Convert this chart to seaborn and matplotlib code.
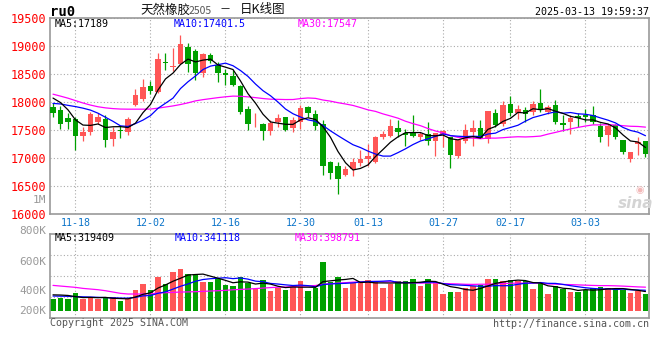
import numpy as np
import pandas as pd
import matplotlib
matplotlib.use("Agg")
import matplotlib.pyplot as plt
import seaborn as sns

# ---------------- data ----------------
open_ = [17910, 17860, 17720, 17690, 17400, 17460, 17650, 17690, 17340, 17500,
         17470, 17940, 18060, 18290, 18180, 18720, 18630, 18680, 18980, 18910,
         18520, 18840, 18660, 18520, 18470, 18280, 17870, 17670, 17610, 17490,
         17650, 17730, 17530, 17650, 17910, 17790, 17610, 16930, 16850, 16700,
         16810, 16910, 16990, 16930, 17380, 17400, 17540, 17450, 17450, 17370,
         17430, 17310, 17420, 17370, 17040, 17300, 17460, 17540, 17340, 17810,
         17600, 17970, 17800, 17860, 17830, 17990, 17830, 17950, 17620, 17650,
         17750, 17760, 17770, 17570, 17410, 17590, 17330, 16980, 17250, 17300]
high = [17980, 17930, 17800, 17730, 17560, 17820, 17810, 17760, 17560, 17570,
        17730, 18230, 18410, 18380, 18880, 18870, 18970, 19200, 19050, 18950,
        18870, 18880, 18720, 18590, 18580, 18300, 17920, 17800, 17630, 17680,
        17790, 17740, 17740, 17950, 17930, 17860, 17670, 16940, 16920, 16850,
        17000, 17150, 17250, 17390, 17490, 17690, 17670, 17520, 17760, 17470,
        17640, 17440, 17500, 17370, 17330, 17600, 17680, 17680, 17840, 17880,
        18020, 18100, 17950, 17910, 18020, 18230, 17950, 18040, 17770, 17760,
        17810, 17880, 17930, 17620, 17610, 17610, 17330, 17110, 17370, 17310]
low = [17730, 17520, 17520, 17150, 17310, 17410, 17610, 17190, 17220, 17350,
       17410, 17920, 18010, 18150, 18160, 18580, 18560, 18670, 18540, 18400,
       18440, 18690, 18350, 18310, 18290, 17780, 17500, 17550, 17330, 17410,
       17560, 17490, 17460, 17520, 17730, 17500, 16690, 16630, 16360, 16680,
       16680, 16850, 16860, 16910, 17340, 17370, 17380, 17220, 17370, 17330,
       17230, 17040, 17190, 16830, 17000, 17270, 17210, 17350, 17270, 17560,
       17570, 17750, 17690, 17650, 17770, 17830, 17790, 17600, 17490, 17430,
       17560, 17650, 17610, 17280, 17220, 17340, 17070, 16920, 17060, 17020]
close = [17810, 17610, 17650, 17400, 17470, 17780, 17740, 17330, 17470, 17480,
         17700, 18130, 18270, 18200, 18770, 18690, 18650, 19040, 18680, 18520,
         18850, 18740, 18520, 18480, 18310, 17830, 17600, 17680, 17490, 17620,
         17720, 17500, 17670, 17900, 17800, 17570, 16850, 16730, 16630, 16800,
         16920, 16990, 17040, 17380, 17430, 17570, 17470, 17410, 17390, 17430,
         17310, 17440, 17480, 17060, 17330, 17500, 17540, 17350, 17840, 17590,
         17950, 17810, 17880, 17790, 17970, 17860, 17910, 17650, 17590, 17710,
         17720, 17730, 17650, 17370, 17570, 17370, 17100, 17110, 17280, 17080]
volume_k = [195, 217, 195, 301, 189, 212, 189, 223, 223, 167,
            189, 345, 446, 345, 568, 451, 652, 696, 613, 613,
            485, 479, 524, 434, 412, 563, 457, 362, 512, 329,
            384, 345, 412, 496, 329, 373, 819, 479, 563, 379,
            457, 479, 512, 496, 379, 446, 496, 496, 529, 412,
            529, 473, 279, 317, 317, 384, 412, 429, 529, 529,
            496, 512, 490, 490, 362, 457, 279, 418, 362, 317,
            317, 345, 373, 401, 384, 345, 345, 301, 329, 279]

# moving-average values before a full window exists
ma5_head = [18070, 17990, 17860, 17680]
ma10_head = [17975, 17965, 17940, 17918, 17890, 17855, 17800, 17727, 17655]
ma30_head = [18140, 18105, 18068, 18025, 17982, 17945, 17915, 17895, 17882, 17874,
             17872, 17872, 17872, 17874, 17890, 17910, 17930, 17955, 17985, 18020,
             18042, 18060, 18078, 18093, 18105, 18102, 18092, 18078, 18062]
vma5_head = [265, 262, 255, 235]
vma10_head = [245, 243, 240, 236, 232, 228, 224, 219, 215]
vma30_head = [423, 412, 401, 390, 373, 362, 351, 334, 312, 290,
              279, 279, 279, 284, 295, 301, 306, 312, 314, 318,
              323, 329, 334, 340, 350, 356, 362, 370, 378]

price_ticks = [16000, 16500, 17000, 17500, 18000, 18500, 19000, 19500]
date_labels = ["11-18", "12-02", "12-16", "12-30", "01-13", "01-27", "02-17", "03-03"]
vol_labels = ["1M", "800K", "600K", "400K", "200K"]
price_legend = ["MA5:17189", "MA10:17401.5", "MA30:17547"]
vol_legend = ["MA5:319409", "MA10:341118", "MA30:398791"]
holidays = ["2025-01-01", "2025-01-28", "2025-01-29", "2025-01-30",
            "2025-01-31", "2025-02-03", "2025-02-04"]

# ---------------- build table ----------------
dates = pd.bdate_range("2024-11-13", "2025-03-13")
dates = dates[~dates.isin(pd.to_datetime(holidays))]
df = pd.DataFrame({"date": dates, "open": open_, "high": high, "low": low,
                   "close": close, "vol": np.array(volume_k) * 1000.0})
df["idx"] = np.arange(len(df))
df["dir"] = np.where(df["close"] >= df["open"], "up", "down")


def moving(series, n, head):
    m = series.rolling(n).mean()
    m.iloc[:n - 1] = head
    return m


df["ma5"] = moving(df["close"], 5, ma5_head)
df["ma10"] = moving(df["close"], 10, ma10_head)
df["ma30"] = moving(df["close"], 30, ma30_head)
df["vma5"] = moving(df["vol"], 5, np.array(vma5_head) * 1000.0)
df["vma10"] = moving(df["vol"], 10, np.array(vma10_head) * 1000.0)
df["vma30"] = moving(df["vol"], 30, np.array(vma30_head) * 1000.0)

date_str = df["date"].dt.strftime("%m-%d").tolist()
tick_pos = [date_str.index(d) for d in date_labels]

# ---------------- style ----------------
sns.set_style("white")
plt.rcParams["font.family"] = ["DejaVu Sans Mono", "DejaVu Sans"]
RED = "#ff5656"
GREEN = "#00a000"
GRID = "#aaaaaa"
FRAME = "#9a9a9a"
W, H = 660, 360

fig = plt.figure(figsize=(6.6, 3.6), dpi=100)
fig.patch.set_facecolor("white")


def fx(x):
    return x / W


def fy(y):
    return 1 - y / H


xlim = (-0.4, 79.47)
grid_kw = dict(color=GRID, linestyle=(0, (1, 2)), linewidth=0.8)

# ---------------- price panel ----------------
ax = fig.add_axes([fx(50), fy(214), 599 / W, 196 / H])
cols = np.where(df["dir"] == "up", RED, GREEN)
ax.vlines(df["idx"], df["low"], df["high"], colors=cols, linewidth=0.9, zorder=2)
body_bottom = np.minimum(df["open"], df["close"])
body_h = np.maximum(np.abs(df["close"] - df["open"]), 14)
ax.bar(df["idx"], body_h, bottom=body_bottom, width=0.7, color=cols,
       linewidth=0, zorder=3)
sns.lineplot(data=df, x="idx", y="ma30", ax=ax, color="#ff00ff", linewidth=0.9, zorder=4)
sns.lineplot(data=df, x="idx", y="ma10", ax=ax, color="#0000ff", linewidth=0.9, zorder=5)
sns.lineplot(data=df, x="idx", y="ma5", ax=ax, color="black", linewidth=0.9, zorder=6)

ax.set_xlim(*xlim)
ax.set_ylim(price_ticks[0], price_ticks[-1])
ax.set_yticks(price_ticks)
ax.set_yticklabels([str(t) for t in price_ticks])
ax.set_xticks(tick_pos)
ax.set_xticklabels(date_labels)
ax.set_xlabel("")
ax.set_ylabel("")
ax.grid(True, **grid_kw)
ax.set_axisbelow(True)
ax.tick_params(axis="y", length=0, pad=3, labelcolor="#ff0000", labelsize=8.5)
ax.tick_params(axis="x", length=0, pad=3, labelcolor="#0b74c9", labelsize=7.2)
for s in ax.spines.values():
    s.set_color(FRAME)
    s.set_linewidth(1.2)

for txt, x, c in zip(price_legend, [55, 174, 298], ["black", "#0000ff", "#ff00ff"]):
    fig.text(fx(x), fy(24), txt, color=c, fontsize=7.2, ha="left", va="center")

# ---------------- volume panel ----------------
axv = fig.add_axes([fx(50), fy(318.3), 599 / W, 84 / H])
sns.barplot(data=df, x="idx", y="vol", hue="dir", palette={"up": RED, "down": GREEN},
            dodge=False, native_scale=True, width=0.78, saturation=1, linewidth=0,
            errorbar=None, legend=False, ax=axv, zorder=2)
sns.lineplot(data=df, x="idx", y="vma30", ax=axv, color="#ff00ff", linewidth=0.9, zorder=4)
sns.lineplot(data=df, x="idx", y="vma10", ax=axv, color="#0000ff", linewidth=0.9, zorder=5)
sns.lineplot(data=df, x="idx", y="vma5", ax=axv, color="black", linewidth=0.9, zorder=6)
vlo, vhi = -127e3, 1277e3
axv.set_xlim(*xlim)
axv.set_ylim(vlo, vhi)
axv.set_xticks(tick_pos)
axv.set_xticklabels([])
axv.set_yticks([vlo + f * (vhi - vlo) for f in (0.25, 0.5, 0.75)])
axv.set_yticklabels([])
axv.set_xlabel("")
axv.set_ylabel("")
axv.grid(True, **grid_kw)
axv.set_axisbelow(True)
axv.tick_params(length=0)
for s in axv.spines.values():
    s.set_color(FRAME)
    s.set_linewidth(1.2)

for txt, x, c in zip(vol_legend, [55, 175, 295], ["black", "#0000ff", "#ff00ff"]):
    fig.text(fx(x), fy(238), txt, color=c, fontsize=7.2, ha="left", va="center")

for txt, y in zip(vol_labels, [200, 231, 262, 291, 311]):
    fig.text(fx(46), fy(y), txt, color="#999999", fontsize=8, ha="right", va="center")

# ---------------- header / footer texts ----------------
fig.text(fx(50), fy(12), "ru0", fontsize=10, weight="bold", color="black",
         ha="left", va="center")
cjk = ["Noto Sans CJK SC", "DejaVu Sans"]
fig.text(fx(140), fy(10), "天然橡胶", family=cjk, fontsize=9, color="#111111",
         ha="left", va="center")
fig.text(fx(189), fy(11), "2505", family=cjk, fontsize=7.5, color="#555555",
         ha="left", va="center")
fig.text(fx(219), fy(10), "－", family=cjk, fontsize=8, color="#111111",
         ha="left", va="center")
fig.text(fx(240), fy(10), "日K线图", family=cjk, fontsize=9, color="#111111",
         ha="left", va="center")
fig.text(fx(649), fy(12), "2025-03-13 19:59:37", fontsize=7.2, color="black",
         ha="right", va="center")
fig.text(fx(50), fy(323), "Copyright 2025 SINA.COM", fontsize=7.2, color="#555555",
         ha="left", va="center")
fig.text(fx(649), fy(324), "http://finance.sina.com.cn", fontsize=7.2, color="#555555",
         ha="right", va="center")
fig.text(fx(640), fy(190), "◉", family=["DejaVu Sans"], fontsize=7, color="#f3b9b9",
         ha="center", va="center")
fig.text(fx(636), fy(203), "sina", family=["DejaVu Sans"], fontsize=11, style="italic",
         weight="bold", color="#d4d4d4", ha="center", va="center")

fig.savefig("out.png", dpi=100, facecolor="white")
